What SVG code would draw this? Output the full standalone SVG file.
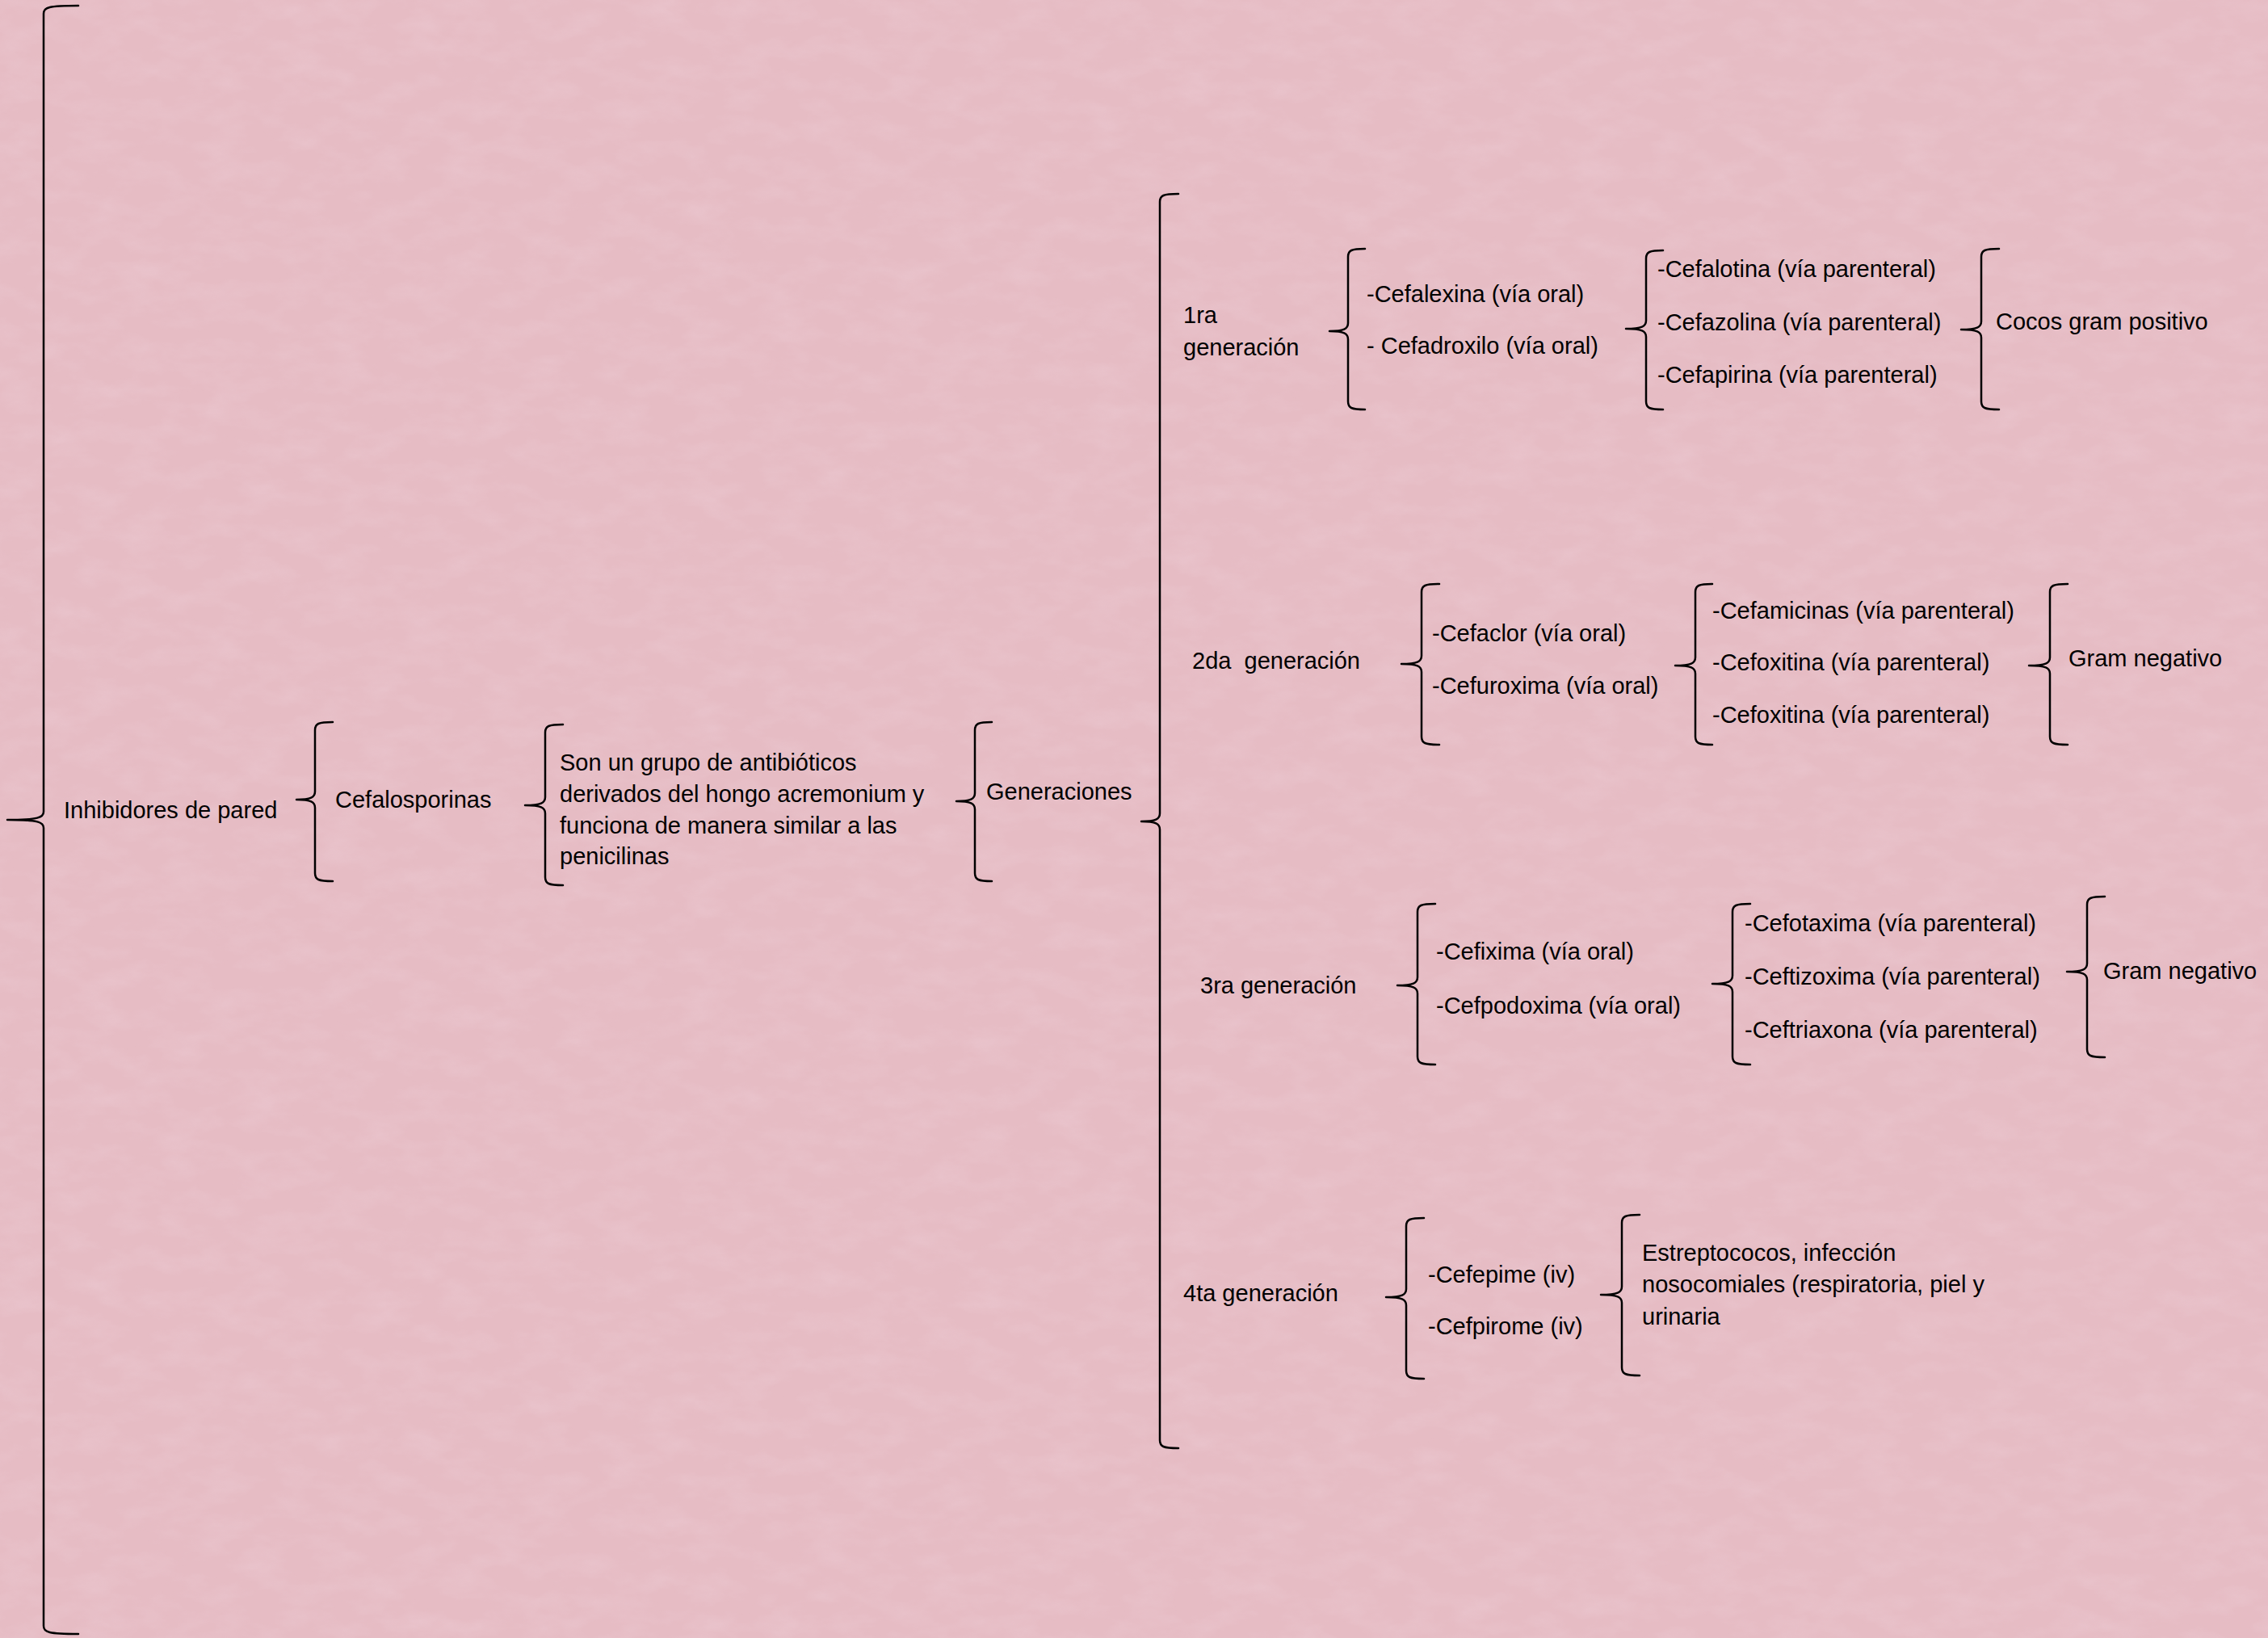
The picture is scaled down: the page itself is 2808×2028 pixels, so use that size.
<svg xmlns="http://www.w3.org/2000/svg" width="2808" height="2028" viewBox="0 0 2808 2028">
<style>
text{font-family:"Liberation Sans",Arial,sans-serif;font-size:29px;fill:#000;white-space:pre}
.br{fill:none;stroke:#000;stroke-width:2.5;stroke-linejoin:round;stroke-linecap:round}
</style>
<defs>
<filter id="tex" x="0" y="0" width="100%" height="100%">
<feTurbulence type="fractalNoise" baseFrequency="0.02 0.04" numOctaves="4" seed="7"/>
<feColorMatrix type="matrix" values="0 0 0 0 0.85  0 0 0 0 0.62  0 0 0 0 0.68  1.4 0 0 0 -0.55"/>
</filter>
</defs>
<rect width="2808" height="2028" fill="#e6bcc4"/>
<rect width="2808" height="2028" filter="url(#tex)" opacity="0.5"/>
<g id="connectors">
<path class="br" d="M97,7 C60,7 54,9 54,17 L54,1005 C54,1012 48,1015 9,1015 C48,1015 54,1018 54,1025 L54,2013 C54,2021 60,2023 97,2023"/>
<path class="br" d="M412,894 C394,894 390,896 390,904 L390,980 C390,987 385,990 367,990 C385,990 390,993 390,1000 L390,1081 C390,1089 394,1091 412,1091"/>
<path class="br" d="M697,897 C679,897 675,899 675,907 L675,987 C675,994 670,997 650,997 C670,997 675,1000 675,1007 L675,1086 C675,1094 679,1096 697,1096"/>
<path class="br" d="M1228,894 C1211,894 1207,896 1207,904 L1207,982 C1207,989 1202,992 1184,992 C1202,992 1207,995 1207,1002 L1207,1081 C1207,1089 1211,1091 1228,1091"/>
<path class="br" d="M1459,240 C1440,240 1436,242 1436,250 L1436,1007 C1436,1014 1431,1017 1413,1017 C1431,1017 1436,1020 1436,1027 L1436,1783 C1436,1791 1440,1793 1459,1793"/>
<path class="br" d="M1690,308 C1673,308 1669,310 1669,318 L1669,400 C1669,407 1664,410 1646,410 C1664,410 1669,413 1669,420 L1669,497 C1669,505 1673,507 1690,507"/>
<path class="br" d="M2059,310 C2042,310 2038,312 2038,320 L2038,397 C2038,404 2033,407 2013,407 C2033,407 2038,410 2038,417 L2038,497 C2038,505 2042,507 2059,507"/>
<path class="br" d="M2475,308 C2457,308 2453,310 2453,318 L2453,398 C2453,405 2448,408 2428,408 C2448,408 2453,411 2453,418 L2453,497 C2453,505 2457,507 2475,507"/>
<path class="br" d="M1782,723 C1764,723 1760,725 1760,733 L1760,812 C1760,819 1755,822 1735,822 C1755,822 1760,825 1760,832 L1760,912 C1760,920 1764,922 1782,922"/>
<path class="br" d="M2120,723 C2103,723 2099,725 2099,733 L2099,814 C2099,821 2094,824 2074,824 C2094,824 2099,827 2099,834 L2099,912 C2099,920 2103,922 2120,922"/>
<path class="br" d="M2560,723 C2542,723 2538,725 2538,733 L2538,814 C2538,821 2533,824 2512,824 C2533,824 2538,827 2538,834 L2538,912 C2538,920 2542,922 2560,922"/>
<path class="br" d="M1777,1119 C1759,1119 1755,1121 1755,1129 L1755,1210 C1755,1217 1750,1220 1730,1220 C1750,1220 1755,1223 1755,1230 L1755,1308 C1755,1316 1759,1318 1777,1318"/>
<path class="br" d="M2167,1119 C2149,1119 2145,1121 2145,1129 L2145,1208 C2145,1215 2140,1218 2120,1218 C2140,1218 2145,1221 2145,1228 L2145,1308 C2145,1316 2149,1318 2167,1318"/>
<path class="br" d="M2606,1110 C2588,1110 2584,1112 2584,1120 L2584,1193 C2584,1200 2579,1203 2559,1203 C2579,1203 2584,1206 2584,1213 L2584,1299 C2584,1307 2588,1309 2606,1309"/>
<path class="br" d="M1763,1508 C1745,1508 1741,1510 1741,1518 L1741,1596 C1741,1603 1736,1606 1716,1606 C1736,1606 1741,1609 1741,1616 L1741,1697 C1741,1705 1745,1707 1763,1707"/>
<path class="br" d="M2030,1504 C2012,1504 2008,1506 2008,1514 L2008,1593 C2008,1600 2003,1603 1982,1603 C2003,1603 2008,1606 2008,1613 L2008,1693 C2008,1701 2012,1703 2030,1703"/>
</g>
<g id="n-inhibidores"><text x="79" y="1013">Inhibidores de pared</text></g>
<g id="n-cefalosporinas"><text x="415" y="1000">Cefalosporinas</text></g>
<g id="n-definicion">
<text x="693" y="954">Son un grupo de antibióticos</text>
<text x="693" y="993">derivados del hongo acremonium y</text>
<text x="693" y="1032">funciona de manera similar a las</text>
<text x="693" y="1070">penicilinas</text>
</g>
<g id="n-generaciones"><text x="1221" y="990">Generaciones</text></g>
<g id="n-gen1"><text x="1465" y="400">1ra</text><text x="1465" y="440">generación</text></g>
<g id="n-gen1-oral"><text x="1692" y="374">-Cefalexina (vía oral)</text><text x="1692" y="438">- Cefadroxilo (vía oral)</text></g>
<g id="n-gen1-par"><text x="2052" y="343">-Cefalotina (vía parenteral)</text><text x="2052" y="409">-Cefazolina (vía parenteral)</text><text x="2052" y="474">-Cefapirina (vía parenteral)</text></g>
<g id="n-gen1-spec"><text x="2471" y="408">Cocos gram positivo</text></g>
<g id="n-gen2"><text x="1476" y="828">2da  generación</text></g>
<g id="n-gen2-oral"><text x="1773" y="794">-Cefaclor (vía oral)</text><text x="1773" y="859">-Cefuroxima (vía oral)</text></g>
<g id="n-gen2-par"><text x="2120" y="766">-Cefamicinas (vía parenteral)</text><text x="2120" y="830">-Cefoxitina (vía parenteral)</text><text x="2120" y="895">-Cefoxitina (vía parenteral)</text></g>
<g id="n-gen2-spec"><text x="2561" y="825">Gram negativo</text></g>
<g id="n-gen3"><text x="1486" y="1230">3ra generación</text></g>
<g id="n-gen3-oral"><text x="1778" y="1188">-Cefixima (vía oral)</text><text x="1778" y="1255">-Cefpodoxima (vía oral)</text></g>
<g id="n-gen3-par"><text x="2160" y="1153">-Cefotaxima (vía parenteral)</text><text x="2160" y="1219">-Ceftizoxima (vía parenteral)</text><text x="2160" y="1285">-Ceftriaxona (vía parenteral)</text></g>
<g id="n-gen3-spec"><text x="2604" y="1212">Gram negativo</text></g>
<g id="n-gen4"><text x="1465" y="1611">4ta generación</text></g>
<g id="n-gen4-iv"><text x="1768" y="1588">-Cefepime (iv)</text><text x="1768" y="1652">-Cefpirome (iv)</text></g>
<g id="n-gen4-spec">
<text x="2033" y="1561">Estreptococos, infección</text>
<text x="2033" y="1600">nosocomiales (respiratoria, piel y</text>
<text x="2033" y="1640">urinaria</text>
</g>
</svg>
